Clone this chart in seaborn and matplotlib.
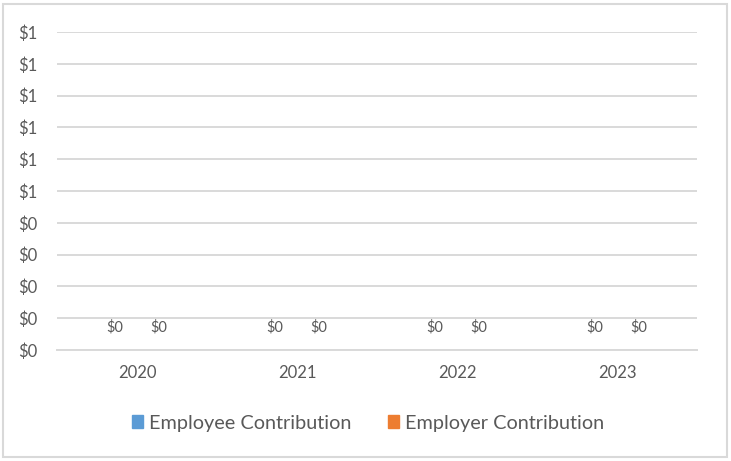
import matplotlib
matplotlib.use("Agg")
import math
import pandas as pd
import matplotlib.pyplot as plt
import seaborn as sns
from matplotlib.patches import Rectangle
from matplotlib.ticker import FuncFormatter, MultipleLocator

YEARS = ["2020", "2021", "2022", "2023"]
EMPLOYEE = [0, 0, 0, 0]
EMPLOYER = [0, 0, 0, 0]
SERIES = ["Employee Contribution", "Employer Contribution"]

BLUE = "#5B9BD5"
ORANGE = "#ED7D31"
GRID = "#D9D9D9"
TEXT = "#595959"

df = pd.DataFrame({
    "Year": YEARS * 2,
    "Value": EMPLOYEE + EMPLOYER,
    "Series": [SERIES[0]] * len(YEARS) + [SERIES[1]] * len(YEARS),
})

sns.set_style("white")
plt.rcParams["font.family"] = ["Lato", "DejaVu Sans"]

fig = plt.figure(figsize=(7.31, 4.61), dpi=100)
ax = fig.add_axes([57 / 731, 111 / 461, 640 / 731, 318 / 461])

sns.barplot(
    data=df, x="Year", y="Value", hue="Series",
    palette=[BLUE, ORANGE], width=0.55, ax=ax, legend=False,
)

ax.set_ylim(0, 1)
ax.yaxis.set_major_locator(MultipleLocator(0.1))
ax.yaxis.set_major_formatter(FuncFormatter(lambda v, p: f"${int(math.floor(v + 0.5 + 1e-9))}"))
ax.grid(axis="y", color=GRID, linewidth=1.4)
ax.set_axisbelow(True)
for side in ["left", "right", "top"]:
    ax.spines[side].set_visible(False)
ax.spines["bottom"].set_color(GRID)
ax.spines["bottom"].set_linewidth(1.4)
ax.tick_params(axis="y", length=0, pad=14, labelsize=12, labelcolor=TEXT)
ax.tick_params(axis="x", length=0, pad=11, labelsize=12, labelcolor=TEXT)
ax.set_xlabel("")
ax.set_ylabel("")

for container in ax.containers:
    ax.bar_label(container, labels=["$0"] * len(container), padding=11,
                 fontsize=10.5, color=TEXT)

handles = [Rectangle((0, 0), 1, 1, color=c) for c in [BLUE, ORANGE]]
fig.legend(handles, SERIES, loc="center", bbox_to_anchor=(368 / 731, 1 - 423 / 461),
           ncol=2, frameon=False, fontsize=14.3, labelcolor=TEXT,
           handlelength=0.6, handleheight=0.6, handletextpad=0.3, columnspacing=1.8)

fig.patches.append(Rectangle((3 / 731, 4 / 461), 724 / 731, 453 / 461,
                             transform=fig.transFigure, fill=False,
                             edgecolor=GRID, linewidth=1.5))

fig.savefig("out.png", dpi=100)
